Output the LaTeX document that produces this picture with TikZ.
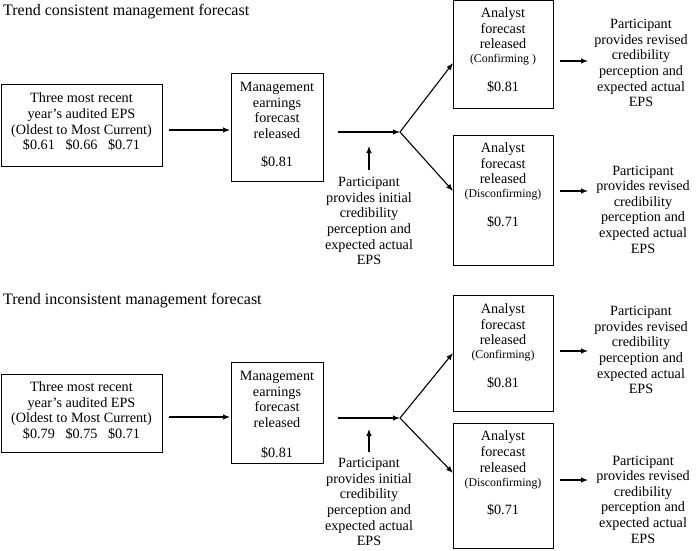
\documentclass[tikz,border=0pt]{standalone}
\usepackage{fontspec}
\setmainfont{Liberation Serif}
\usetikzlibrary{arrows.meta}
\begin{document}
\begin{tikzpicture}[x=1pt,y=-1pt,
  box/.style={draw, line width=0.8pt, inner sep=0pt},
  txt/.style={align=center, font=\fontsize{14.2}{15.6}\selectfont, inner sep=0pt},
  ttl/.style={anchor=west, font=\fontsize{16}{19}\selectfont, inner sep=0pt},
  arr/.style={line width=1.1pt, -{Latex[length=7pt,width=5.5pt]}},
  ln/.style={line width=1.1pt}]
\newcommand{\smalltxt}[1]{{\fontsize{11.8}{13}\selectfont #1}}
\useasboundingbox (0,0) rectangle (696,550);

% ===== Top: trend consistent =====
\node[ttl] (t1) at (3,12) {Trend consistent management forecast};

\node[box, minimum width=161pt, minimum height=82pt] (a1) at (81.5,125) {};
\node[txt] (a1t) at (81.5,122) {Three most recent\\year’s audited EPS\\(Oldest to Most Current)\\\$0.61\enspace\ \$0.66\enspace\ \$0.71};

\node[box, minimum width=92pt, minimum height=108pt] (a2) at (277,127) {};
\node[txt] (a2t) at (277,125) {Management\\earnings\\forecast\\released\\[13pt]\$0.81};

\node[box, minimum width=100pt, minimum height=108pt] (a3) at (503,54) {};
\node[txt] (a3t) at (503,50) {Analyst\\forecast\\released\\[-1.5pt]\smalltxt{(Confirming )}\\[13pt]\$0.81};

\node[box, minimum width=100pt, minimum height=130pt] (a4) at (503,200) {};
\node[txt] (a4t) at (503,185) {Analyst\\forecast\\released\\[-1.5pt]\smalltxt{(Disconfirming)}\\[13pt]\$0.71};

\node[txt] (ap) at (369,221) {Participant\\provides initial\\credibility\\perception and\\expected actual\\EPS};
\node[txt] (ar1) at (641,63) {Participant\\provides revised\\credibility\\perception and\\expected actual\\EPS};
\node[txt] (ar2) at (643,209.5) {Participant\\provides revised\\credibility\\perception and\\expected actual\\EPS};

\coordinate (as1) at (169,130);
\coordinate (ae1) at (230,130);
\coordinate (aj0) at (338,132);
\coordinate (aj) at (400,132);
\coordinate (au) at (453,63);
\coordinate (ad) at (453,191);
\coordinate (aus) at (369,170);
\coordinate (aue) at (369,146);
\coordinate (ar1s) at (560,61);
\coordinate (ar1e) at (588,61);
\coordinate (ar2s) at (560,191);
\coordinate (ar2e) at (588,191);

\draw[arr] (as1) -- (ae1);
\draw[arr] (aj0) -- (aj);
\draw[arr] (aj) -- (au);
\draw[arr] (aj) -- (ad);
\draw[arr] (aus) -- (aue);
\draw[arr] (ar1s) -- (ar1e);
\draw[arr] (ar2s) -- (ar2e);

% ===== Bottom: trend inconsistent =====
\node[ttl] (t2) at (3,301) {Trend inconsistent management forecast};

\node[box, minimum width=161pt, minimum height=78pt] (b1) at (81.5,413) {};
\node[txt] (b1t) at (81.5,410.5) {Three most recent\\year’s audited EPS\\(Oldest to Most Current)\\\$0.79\enspace\ \$0.75\enspace\ \$0.71};

\node[box, minimum width=92pt, minimum height=101pt] (b2) at (277,412.5) {};
\node[txt] (b2t) at (277,415) {Management\\earnings\\forecast\\released\\[15pt]\$0.81};

\node[box, minimum width=100pt, minimum height=116pt] (b3) at (503,353) {};
\node[txt] (b3t) at (503,346) {Analyst\\forecast\\released\\[-1.5pt]\smalltxt{(Confirming)}\\[13pt]\$0.81};

\node[box, minimum width=100pt, minimum height=125pt] (b4) at (503,486) {};
\node[txt] (b4t) at (503,473.5) {Analyst\\forecast\\released\\[-1.5pt]\smalltxt{(Disconfirming)}\\[13pt]\$0.71};

\node[txt] (bp) at (369,502) {Participant\\provides initial\\credibility\\perception and\\expected actual\\EPS};
\node[txt] (br1) at (641,350) {Participant\\provides revised\\credibility\\perception and\\expected actual\\EPS};
\node[txt] (br2) at (643,499.5) {Participant\\provides revised\\credibility\\perception and\\expected actual\\EPS};

\coordinate (bs1) at (169,417);
\coordinate (be1) at (230,417);
\coordinate (bj0) at (338,418);
\coordinate (bj) at (400,418);
\coordinate (bu) at (453,353);
\coordinate (bd) at (453,473);
\coordinate (bus) at (369,452);
\coordinate (bue) at (369,429);
\coordinate (br1s) at (560,351);
\coordinate (br1e) at (588,351);
\coordinate (br2s) at (560,480);
\coordinate (br2e) at (588,480);

\draw[arr] (bs1) -- (be1);
\draw[arr] (bj0) -- (bj);
\draw[arr] (bj) -- (bu);
\draw[arr] (bj) -- (bd);
\draw[arr] (bus) -- (bue);
\draw[arr] (br1s) -- (br1e);
\draw[arr] (br2s) -- (br2e);
\end{tikzpicture}
\end{document}
